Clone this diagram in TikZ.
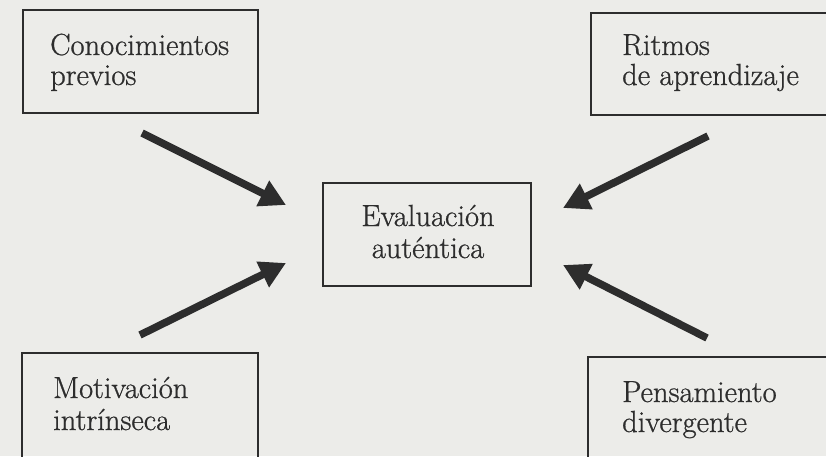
\documentclass[tikz,border=0pt]{standalone}
\usepackage{fontspec}
\newfontfamily\lblfont{Latin Modern Roman}[FakeBold=0.8]
\usetikzlibrary{arrows.meta}
\definecolor{paper}{RGB}{236,236,233}
\definecolor{ink}{RGB}{45,45,45}
\tikzset{
  box/.style={draw=ink, line width=1.8pt, rectangle, inner sep=0pt},
  lbl/.style={anchor=base west, inner sep=0pt, text=ink, font=\lblfont\fontsize{30.5}{33}\selectfont},
  clbl/.style={anchor=base, inner sep=0pt, text=ink, font=\lblfont\fontsize{30.5}{33}\selectfont},
  bigarrow/.style={draw=ink, line width=7.5pt, -{Triangle[length=26pt, width=27pt]}}
}
\begin{document}
\begin{tikzpicture}[x=1pt, y=-1pt]
\fill[paper] (0,0) rectangle (826,456);
\useasboundingbox (0,0) rectangle (826,456);
% boxes
\node[box, minimum width=235pt, minimum height=103pt] (btl) at (140.5,61.5) {};
\node[box, minimum width=240pt, minimum height=102pt] (btr) at (711,64) {};
\node[box, minimum width=208pt, minimum height=103pt] (bc) at (427,234.5) {};
\node[box, minimum width=236pt, minimum height=107pt] (bbl) at (140,406.5) {};
\node[box, minimum width=242pt, minimum height=103pt] (bbr) at (709,408.5) {};
% labels
\node[lbl] (t1a) at (50,55) {Conocimientos};
\node[lbl] (t1b) at (50,85) {previos};
\node[lbl] (t2a) at (622,55) {Ritmos};
\node[lbl] (t2b) at (622,85) {de aprendizaje};
\node[clbl] (tca) at (428,226) {Evaluación};
\node[clbl] (tcb) at (428,258) {auténtica};
\node[lbl] (t3a) at (53,398) {Motivación};
\node[lbl] (t3b) at (53,430) {intrínseca};
\node[lbl] (t4a) at (622,402) {Pensamiento};
\node[lbl] (t4b) at (622,432) {divergente};
% arrow ends
\coordinate (s1) at (142,133); \coordinate (e1) at (286,205);
\coordinate (s2) at (708,136); \coordinate (e2) at (563,208);
\coordinate (s3) at (140,335); \coordinate (e3) at (286,263);
\coordinate (s4) at (707,338); \coordinate (e4) at (563,265);
\draw[bigarrow] (s1) -- (e1);
\draw[bigarrow] (s2) -- (e2);
\draw[bigarrow] (s3) -- (e3);
\draw[bigarrow] (s4) -- (e4);
\end{tikzpicture}
\end{document}
